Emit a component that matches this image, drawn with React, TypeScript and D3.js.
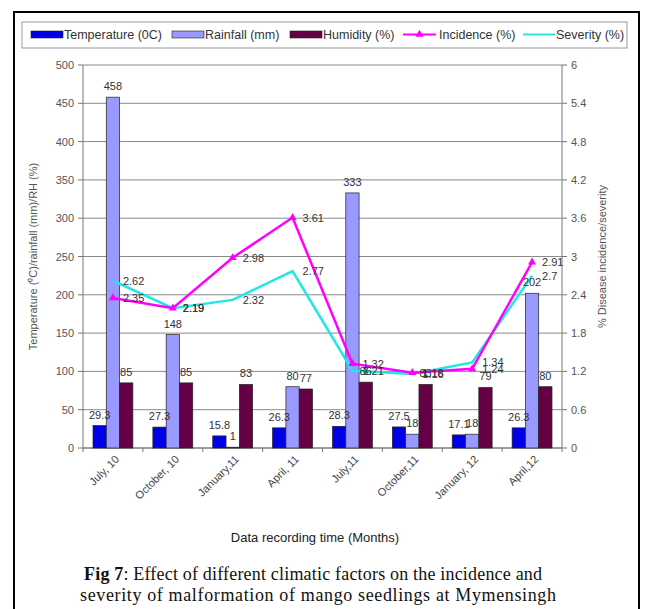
import React from "react";
import * as d3 from "d3";

const categories = ["July, 10", "October, 10", "January,11", "April, 11", "July,11", "October,11", "January, 12", "April,12"];
const temperature = [29.3, 27.3, 15.8, 26.3, 28.3, 27.5, 17.1, 26.3];
const rainfall = [458, 148, 1, 80, 333, 18, 18, 202];
const humidity = [85, 85, 83, 77, 86, 83, 79, 80];
const incidence = [2.35, 2.19, 2.98, 3.61, 1.32, 1.18, 1.24, 2.91];
const severity = [2.62, 2.19, 2.32, 2.77, 1.21, 1.16, 1.34, 2.7];
const leftTicks = [0, 50, 100, 150, 200, 250, 300, 350, 400, 450, 500];
const rightTicks = [0, 0.6, 1.2, 1.8, 2.4, 3, 3.6, 4.2, 4.8, 5.4, 6];
const barSeries = ["Temperature (0C)", "Rainfall (mm)", "Humidity (%)"];

const COLORS = {
  temp: "#0000e6",
  rain: "#9999ff",
  hum: "#660044",
  inc: "#ff00ff",
  sev: "#22e6e6",
};

const FONT = "Liberation Sans, Arial, sans-serif";

export default function App() {
  const L = 83, R = 562, T = 65, B = 448;
  const x = d3.scaleBand<string>().domain(categories).range([L, R]).paddingInner(0.334).paddingOuter(0.167);
  const x1 = d3.scaleBand<string>().domain(barSeries).range([0, x.bandwidth()]);
  const yL = d3.scaleLinear().domain([0, 500]).range([B, T]);
  const yR = d3.scaleLinear().domain([0, 6]).range([B, T]);
  const cx = (c: string) => (x(c) as number) + x.bandwidth() / 2;

  const barData = [
    { key: barSeries[0], vals: temperature, color: COLORS.temp },
    { key: barSeries[1], vals: rainfall, color: COLORS.rain },
    { key: barSeries[2], vals: humidity, color: COLORS.hum },
  ];

  const line = d3.line<number>().x((_, i) => cx(categories[i])).y((d) => yR(d));
  const fmt = (v: number) => String(v);

  const tri = d3.symbol().type(d3.symbolTriangle).size(28)();

  return (
    <svg width={646} height={609} style={{ display: "block", position: "absolute", left: 0, top: 0 }}>
      <rect x={0} y={0} width={646} height={609} fill="#fff" />
      {/* outer frame */}
      <rect x={14} y={12} width={625} height={620} fill="none" stroke="#000" strokeWidth={2} />
      {/* legend */}
      <rect x={22} y={22} width={605} height={26} fill="#fff" stroke="#999" strokeWidth={1} />
      <g fontFamily={FONT} fontSize={12.5} fill="#333">
        <rect x={31} y={31} width={32} height={7} fill={COLORS.temp} stroke="#222" strokeWidth={0.6} />
        <text x={64} y={39}>Temperature (0C)</text>
        <rect x={172} y={31} width={32} height={7} fill={COLORS.rain} stroke="#222" strokeWidth={0.6} />
        <text x={205} y={39}>Rainfall (mm)</text>
        <rect x={290} y={31} width={32} height={7} fill={COLORS.hum} stroke="#222" strokeWidth={0.6} />
        <text x={323} y={39}>Humidity (%)</text>
        <line x1={403} x2={436} y1={34.5} y2={34.5} stroke={COLORS.inc} strokeWidth={2} />
        <path d={tri as string} transform="translate(419.5,34.5)" fill={COLORS.inc} />
        <text x={439} y={39}>Incidence (%)</text>
        <line x1={523} x2={555} y1={34.5} y2={34.5} stroke={COLORS.sev} strokeWidth={2} />
        <text x={556} y={39}>Severity (%)</text>
      </g>

      {/* gridlines */}
      {leftTicks.map((t) => (
        <line key={"g" + t} x1={L} x2={R} y1={yL(t)} y2={yL(t)} stroke="#8a8a8a" strokeWidth={1} />
      ))}
      {/* axes */}
      <line x1={L} x2={L} y1={T} y2={B} stroke="#777" />
      <line x1={R} x2={R} y1={T} y2={B} stroke="#777" />
      <line x1={L} x2={R} y1={B} y2={B} stroke="#777" />
      <g fontFamily={FONT} fontSize={11} fill="#555">
        {leftTicks.map((t) => (
          <g key={"l" + t}>
            <line x1={L - 5} x2={L} y1={yL(t)} y2={yL(t)} stroke="#777" />
            <text x={L - 9} y={yL(t) + 4} textAnchor="end">{t}</text>
          </g>
        ))}
        {rightTicks.map((t) => (
          <g key={"r" + t}>
            <line x1={R} x2={R + 5} y1={yR(t)} y2={yR(t)} stroke="#777" />
            <text x={R + 9} y={yR(t) + 4}>{fmt(t)}</text>
          </g>
        ))}
      </g>
      {/* x ticks */}
      {d3.range(categories.length + 1).map((i) => {
        const xx = L + i * x.step();
        return <line key={"xt" + i} x1={xx} x2={xx} y1={B} y2={B + 4} stroke="#777" />;
      })}
      {/* bars */}
      {barData.map((s) =>
        categories.map((c, i) => (
          <rect
            key={s.key + c}
            x={(x(c) as number) + (x1(s.key) as number)}
            y={yL(s.vals[i])}
            width={x1.bandwidth()}
            height={B - yL(s.vals[i])}
            fill={s.color}
            stroke="#222"
            strokeWidth={0.7}
          />
        ))
      )}
      {/* lines */}
      <path d={line(severity) as string} fill="none" stroke={COLORS.sev} strokeWidth={2.5} />
      <path d={line(incidence) as string} fill="none" stroke={COLORS.inc} strokeWidth={2.5} />
      {incidence.map((v, i) => (
        <path key={"m" + i} d={tri as string} transform={`translate(${cx(categories[i])},${yR(v)})`} fill={COLORS.inc} />
      ))}
      {/* bar labels */}
      <g fontFamily={FONT} fontSize={11} fill="#333" textAnchor="middle">
        {barData.map((s) =>
          categories.map((c, i) => (
            <text
              key={"bl" + s.key + c}
              x={(x(c) as number) + (x1(s.key) as number) + x1.bandwidth() / 2}
              y={yL(s.vals[i]) - 7}
            >
              {s.vals[i]}
            </text>
          ))
        )}
      </g>
      {/* line labels */}
      <g fontFamily={FONT} fontSize={11} fill="#333">
        {incidence.map((v, i) => (
          <text key={"il" + i} x={cx(categories[i]) + 10} y={yR(v) + 4}>{v}</text>
        ))}
        {severity.map((v, i) => (
          <text key={"sl" + i} x={cx(categories[i]) + 10} y={yR(v) + 4}>{v}</text>
        ))}
      </g>
      {/* x labels */}
      <g fontFamily={FONT} fontSize={11} fill="#444">
        {categories.map((c) => (
          <text key={"xl" + c} textAnchor="end" transform={`translate(${cx(c) + 7},${B + 12}) rotate(-45)`}>
            {c}
          </text>
        ))}
      </g>
      {/* axis titles */}
      <text fontFamily={FONT} fontSize={11} fill="#555" textAnchor="middle" transform={`translate(37,${(T + B) / 2}) rotate(-90)`}>
        Temperature (⁰C)/rainfall (mm)/RH (%)
      </text>
      <text fontFamily={FONT} fontSize={11} fill="#555" textAnchor="middle" transform={`translate(606,${(T + B) / 2}) rotate(-90)`}>
        % Disease incidence/severity
      </text>
      <text x={315} y={542} fontFamily={FONT} fontSize={13} fill="#222" textAnchor="middle">
        Data recording time (Months)
      </text>
      {/* caption */}
      <g fontFamily="Liberation Serif, Times New Roman, serif" fontSize={18} fill="#111">
        <text x={84} y={580} textLength={458} lengthAdjust="spacing">
          <tspan fontWeight="bold">Fig 7</tspan>: Effect of different climatic factors on the incidence and
        </text>
        <text x={80} y={601} textLength={476} lengthAdjust="spacing">severity of malformation of mango seedlings at Mymensingh</text>
      </g>
    </svg>
  );
}
